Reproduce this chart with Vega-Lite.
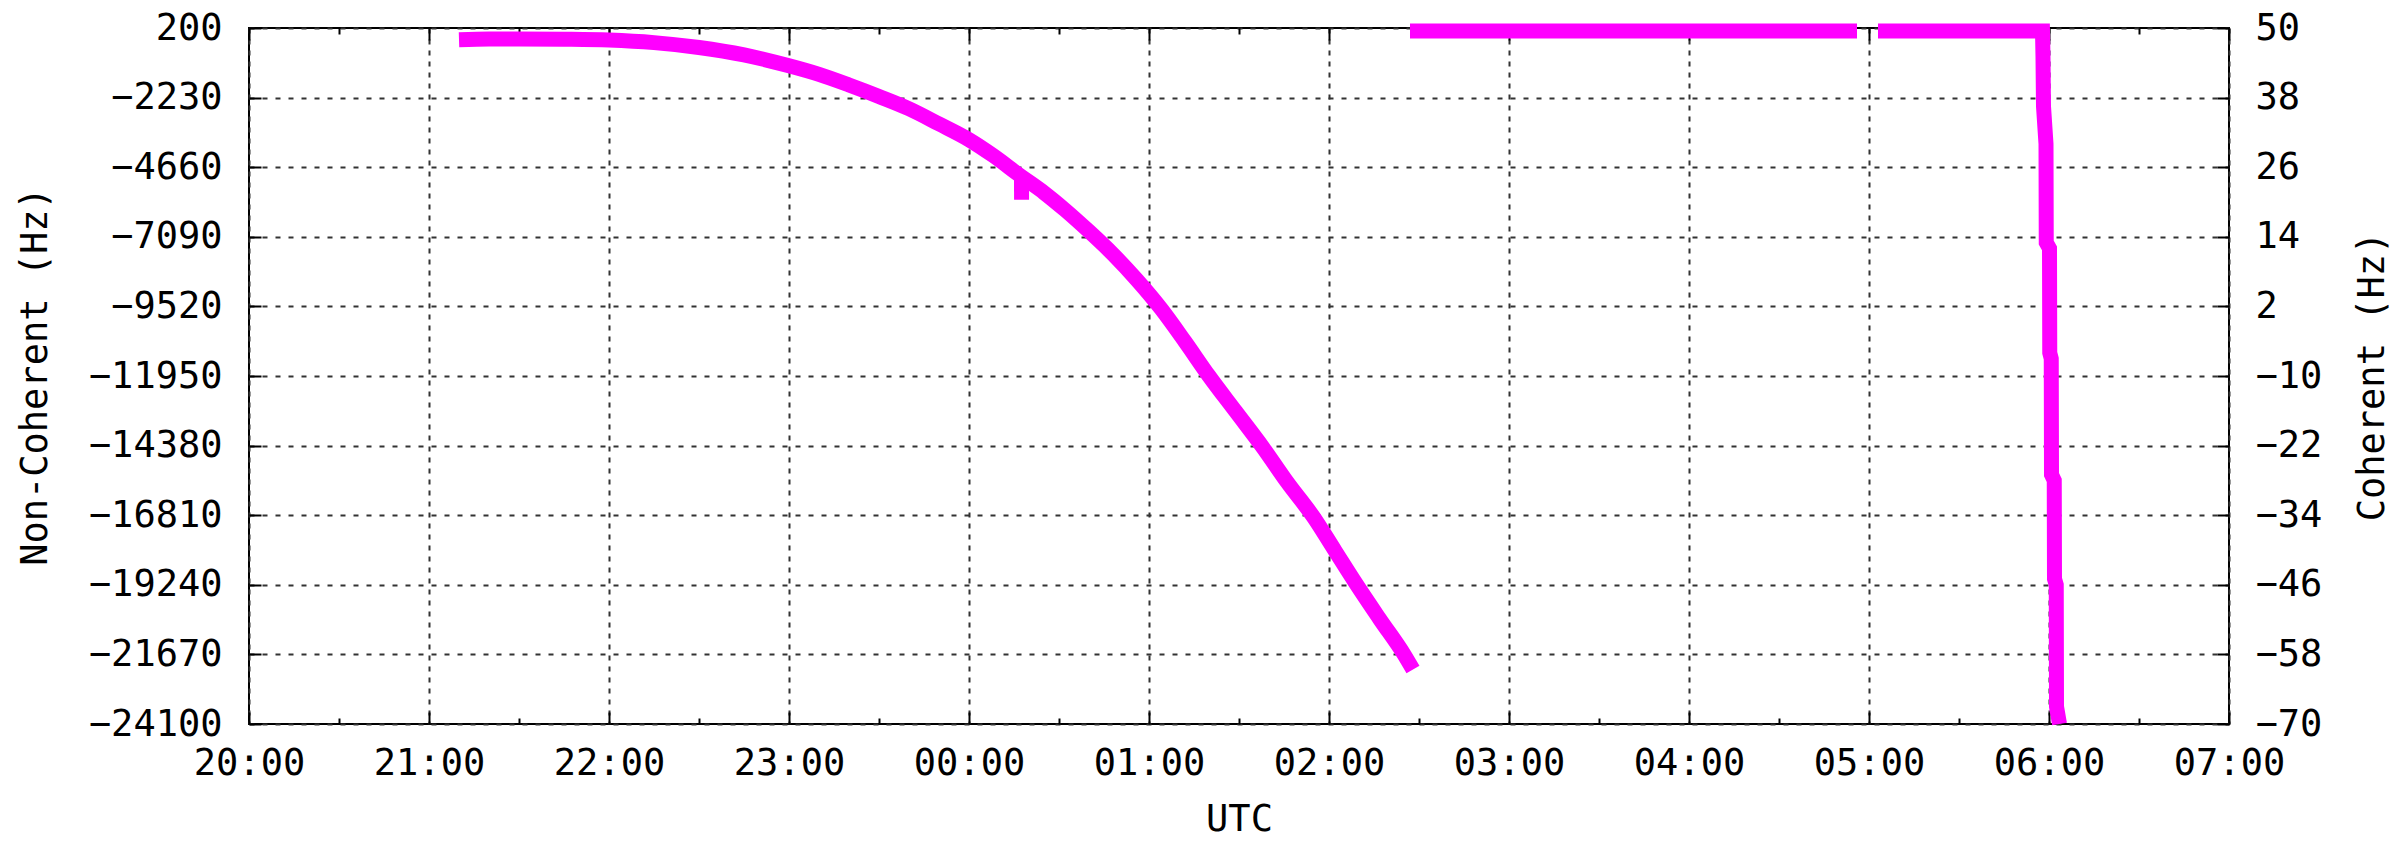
{
  "$schema": "https://vega.github.io/schema/vega-lite/v6.json",
  "width": 1980,
  "height": 696,
  "autosize": {"type": "none"},
  "padding": {"left": 249, "top": 28, "right": 170, "bottom": 117},
  "background": "white",
  "config": {
    "view": {"stroke": "black", "strokeWidth": 2},
    "axis": {
      "labelFont": "DejaVu Sans Mono",
      "labelFontSize": 37,
      "labelColor": "black",
      "titleFont": "DejaVu Sans Mono",
      "titleFontSize": 37,
      "titleFontWeight": "normal",
      "titleColor": "black",
      "tickColor": "black",
      "tickWidth": 2,
      "domain": false
    }
  },
  "datasets": {
    "nc": [
      {"seg": "m", "t": "2020-01-01T21:10:00Z", "v": -210},
      {"seg": "m", "t": "2020-01-01T21:20:00Z", "v": -185},
      {"seg": "m", "t": "2020-01-01T21:30:00Z", "v": -180},
      {"seg": "m", "t": "2020-01-01T21:45:00Z", "v": -190},
      {"seg": "m", "t": "2020-01-01T22:00:00Z", "v": -220},
      {"seg": "m", "t": "2020-01-01T22:15:00Z", "v": -310},
      {"seg": "m", "t": "2020-01-01T22:30:00Z", "v": -480},
      {"seg": "m", "t": "2020-01-01T22:45:00Z", "v": -740},
      {"seg": "m", "t": "2020-01-01T23:00:00Z", "v": -1120},
      {"seg": "m", "t": "2020-01-01T23:10:00Z", "v": -1420},
      {"seg": "m", "t": "2020-01-01T23:20:00Z", "v": -1790},
      {"seg": "m", "t": "2020-01-01T23:30:00Z", "v": -2190},
      {"seg": "m", "t": "2020-01-01T23:40:00Z", "v": -2620},
      {"seg": "m", "t": "2020-01-01T23:50:00Z", "v": -3150},
      {"seg": "m", "t": "2020-01-02T00:00:00Z", "v": -3700},
      {"seg": "m", "t": "2020-01-02T00:08:00Z", "v": -4250},
      {"seg": "m", "t": "2020-01-02T00:17:00Z", "v": -4950},
      {"seg": "m", "t": "2020-01-02T00:25:00Z", "v": -5550},
      {"seg": "m", "t": "2020-01-02T00:32:00Z", "v": -6150},
      {"seg": "m", "t": "2020-01-02T00:40:00Z", "v": -6900},
      {"seg": "m", "t": "2020-01-02T00:48:00Z", "v": -7700},
      {"seg": "m", "t": "2020-01-02T00:56:00Z", "v": -8600},
      {"seg": "m", "t": "2020-01-02T01:04:00Z", "v": -9600},
      {"seg": "m", "t": "2020-01-02T01:12:00Z", "v": -10750},
      {"seg": "m", "t": "2020-01-02T01:20:00Z", "v": -11950},
      {"seg": "m", "t": "2020-01-02T01:29:00Z", "v": -13200},
      {"seg": "m", "t": "2020-01-02T01:38:00Z", "v": -14450},
      {"seg": "m", "t": "2020-01-02T01:46:00Z", "v": -15650},
      {"seg": "m", "t": "2020-01-02T01:55:00Z", "v": -16900},
      {"seg": "m", "t": "2020-01-02T02:02:00Z", "v": -18050},
      {"seg": "m", "t": "2020-01-02T02:09:00Z", "v": -19200},
      {"seg": "m", "t": "2020-01-02T02:17:00Z", "v": -20450},
      {"seg": "m", "t": "2020-01-02T02:25:00Z", "v": -21670},
      {"seg": "m", "t": "2020-01-02T02:28:00Z", "v": -22200},
      {"seg": "g", "t": "2020-01-02T00:17:30Z", "v": -4900},
      {"seg": "g", "t": "2020-01-02T00:17:31Z", "v": -5800}
    ],
    "coh": [
      {"seg": "a", "t": "2020-01-02T02:27:00Z", "v": 49.5},
      {"seg": "a", "t": "2020-01-02T04:56:00Z", "v": 49.5},
      {"seg": "b", "t": "2020-01-02T05:03:00Z", "v": 49.5},
      {"seg": "b", "t": "2020-01-02T05:57:50Z", "v": 49.5},
      {"seg": "b", "t": "2020-01-02T05:58:00Z", "v": 45},
      {"seg": "b", "t": "2020-01-02T05:58:10Z", "v": 36.5},
      {"seg": "b", "t": "2020-01-02T05:59:00Z", "v": 30},
      {"seg": "b", "t": "2020-01-02T05:59:05Z", "v": 13},
      {"seg": "b", "t": "2020-01-02T06:00:10Z", "v": 12},
      {"seg": "b", "t": "2020-01-02T06:00:15Z", "v": -6},
      {"seg": "b", "t": "2020-01-02T06:00:45Z", "v": -7},
      {"seg": "b", "t": "2020-01-02T06:00:50Z", "v": -27},
      {"seg": "b", "t": "2020-01-02T06:01:45Z", "v": -28},
      {"seg": "b", "t": "2020-01-02T06:01:50Z", "v": -45},
      {"seg": "b", "t": "2020-01-02T06:02:25Z", "v": -46},
      {"seg": "b", "t": "2020-01-02T06:02:30Z", "v": -67},
      {"seg": "b", "t": "2020-01-02T06:03:30Z", "v": -70}
    ]
  },
  "layer": [
    {
      "data": {"name": "nc"},
      "mark": {"type": "line", "color": "#ff00ff", "strokeWidth": 15, "interpolate": "monotone"},
      "encoding": {
        "x": {
          "field": "t", "type": "temporal",
          "scale": {"type": "utc", "nice": false, "domain": [1577908800000, 1577948400000]},
          "axis": {
            "orient": "bottom", "title": "UTC", "format": "%H:%M",
            "values": [1577908800000, 1577912400000, 1577916000000, 1577919600000, 1577923200000, 1577926800000, 1577930400000, 1577934000000, 1577937600000, 1577941200000, 1577944800000, 1577948400000],
            "labelFlush": false,
            "grid": true, "gridColor": "#333333", "gridWidth": 2, "gridDash": [5, 6],
            "tickSize": -12, "labelPadding": 33, "titlePadding": 20
          }
        },
        "y": {
          "field": "v", "type": "quantitative",
          "scale": {"domain": [-24100, 200], "nice": false, "zero": false},
          "axis": {
            "orient": "left", "title": "Non-Coherent (Hz)",
            "values": [200, -2230, -4660, -7090, -9520, -11950, -14380, -16810, -19240, -21670, -24100],
            "format": "d",
            "grid": true, "gridColor": "#333333", "gridWidth": 2, "gridDash": [5, 8],
            "tickSize": -12, "labelPadding": 39, "titlePadding": 34
          }
        },
        "detail": {"field": "seg"}
      }
    },
    {
      "data": {"name": "coh"},
      "mark": {"type": "line", "color": "#ff00ff", "strokeWidth": 15},
      "encoding": {
        "x": {
          "field": "t", "type": "temporal",
          "axis": {
            "orient": "top", "title": null, "labels": false, "grid": false,
            "values": [1577908800000, 1577912400000, 1577916000000, 1577919600000, 1577923200000, 1577926800000, 1577930400000, 1577934000000, 1577937600000, 1577941200000, 1577944800000, 1577948400000],
            "tickSize": -12
          }
        },
        "y": {
          "field": "v", "type": "quantitative",
          "scale": {"domain": [-70, 50], "nice": false, "zero": false},
          "axis": {
            "orient": "right", "title": "Coherent (Hz)",
            "values": [50, 38, 26, 14, 2, -10, -22, -34, -46, -58, -70],
            "format": "d", "grid": false,
            "tickSize": -12, "labelPadding": 38,
            "titleAngle": 270, "titleBaseline": "top", "titlePadding": 33
          }
        },
        "detail": {"field": "seg"}
      }
    },
    {
      "data": {"name": "nc"},
      "mark": {"type": "line", "opacity": 0},
      "encoding": {
        "x": {
          "field": "t", "type": "temporal",
          "axis": {
            "orient": "bottom", "title": null, "labels": false, "grid": false,
            "values": [1577910600000, 1577914200000, 1577917800000, 1577921400000, 1577925000000, 1577928600000, 1577932200000, 1577935800000, 1577939400000, 1577943000000, 1577946600000],
            "tickSize": -6
          }
        },
        "y": {"field": "v", "type": "quantitative", "axis": null}
      }
    },
    {
      "data": {"name": "nc"},
      "mark": {"type": "line", "opacity": 0},
      "encoding": {
        "x": {
          "field": "t", "type": "temporal",
          "axis": {
            "orient": "top", "title": null, "labels": false, "grid": false,
            "values": [1577910600000, 1577914200000, 1577917800000, 1577921400000, 1577925000000, 1577928600000, 1577932200000, 1577935800000, 1577939400000, 1577943000000, 1577946600000],
            "tickSize": -6
          }
        },
        "y": {"field": "v", "type": "quantitative", "axis": null}
      }
    }
  ],
  "resolve": {
    "scale": {"y": "independent"},
    "axis": {"x": "independent", "y": "independent"}
  }
}
